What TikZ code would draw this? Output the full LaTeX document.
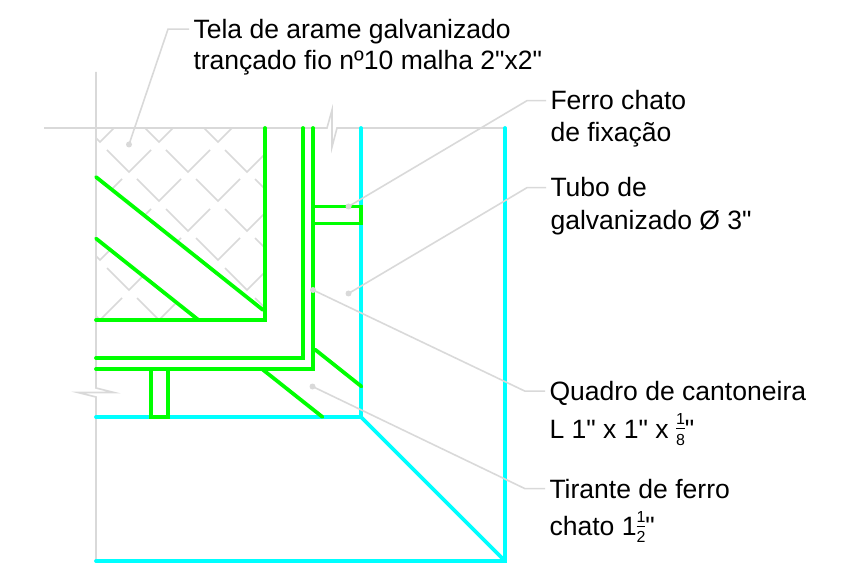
\documentclass[tikz,border=0pt]{standalone}
\usepackage{fontspec}
\setmainfont{Liberation Sans}[Ligatures=TeXOff]
\definecolor{leadergray}{RGB}{217,217,217}
\definecolor{steelgreen}{RGB}{0,255,0}
\definecolor{tubecyan}{RGB}{0,255,255}
\newcommand{\labelfont}{\fontsize{19.9}{24}\selectfont}
\newcommand{\smallfrac}[2]{\raisebox{1.8pt}{$\nulldelimiterspace=0pt\frac{\mbox{\fontsize{12}{12}\selectfont #1}}{\mbox{\fontsize{12}{12}\selectfont #2}}$}}
\tikzset{every picture/.style={line width=0.75pt},
  thin gray/.style={draw=leadergray,line width=1.2pt},
  steel/.style={draw=steelgreen,line width=2.8pt,line cap=round,line join=miter},
  tube/.style={draw=tubecyan,line width=2.8pt,line cap=round,line join=miter},
  leader/.style={draw=leadergray,line width=1.2pt},
  dot/.style={circle,fill=leadergray,inner sep=0pt,minimum size=4.5pt},
  callout/.style={anchor=base west,inner sep=3pt,text height=14pt,text depth=0pt,font=\labelfont}}

\begin{document}
\begin{tikzpicture}[x=0.75pt,y=0.75pt,yscale=-1,xscale=1]
\useasboundingbox (0,0) rectangle (865,563);

% Mesh hatch
\begin{scope}
\clip (96,128) -- (263,128) -- (263,309) -- (96,177) -- cycle (96,238) -- (198,320) -- (96,320) -- cycle;
\foreach \row in {142,201,260,320}
  \foreach \col in {100,159,218,277}
    \draw [thin gray] (\col-22,\row-22) -- (\col,\row) -- (\col+22,\row-22);
\foreach \row in {172,231,290}
  \foreach \col in {129,188,247}
    \draw [thin gray] (\col-22,\row-22) -- (\col,\row) -- (\col+22,\row-22);
\end{scope}

% Break lines
\draw [thin gray] (96,72) -- (96,388) -- (114,392.5) -- (78,392.5) -- (96,397) -- (96,562);
\draw [thin gray] (44,128) -- (327,128) -- (332,110) -- (332,147) -- (337,128) -- (505,128);

% Tube
\draw [tube] (361,128) -- (361,417) -- (96,417);
\draw [tube] (361,417) -- (505,561);
\draw [tube] (505,128) -- (505,561) -- (96,561);

% Frame
\draw [steel] (265,128) -- (265,320) -- (96,320);
\draw [steel] (96,177) -- (263,310);
\draw [steel] (96,238.5) -- (198.5,320);
\draw [steel] (303,128) -- (303,358) -- (96,358);
\draw [steel] (313,128) -- (313,369) -- (96,369);
\draw [steel] (313,206.5) -- (361,206.5) -- (361,223.5) -- (313,223.5);
\draw [steel] (151,369) -- (151,417) -- (168,417) -- (168,369);
\draw [steel] (315,349.5) -- (361.5,386.5);
\draw [steel] (262,369) -- (322.5,417);

% Text Node
\node [callout] (tela) at (189,38.5) {Tela de arame galvanizado};
\node [callout] (tela2) at (189,70) {trançado fio nº10 malha 2"x2"};
\node [callout] (ferro) at (546,110) {Ferro chato};
\node [callout] (ferro2) at (546,142) {de fixação};
\node [callout] (tubo) at (546,197) {Tubo de};
\node [callout] (tubo2) at (546,230) {galvanizado Ø 3"};
\node [callout] (quadro) at (545,400.5) {Quadro de cantoneira};
\node [callout] (quadro2) at (545,438) {L 1" x 1" x \smallfrac{1}{8}"};
\node [callout] (tirante) at (545,498) {Tirante de ferro};
\node [callout] (tirante2) at (545,535.5) {chato 1\smallfrac{1}{2}"};

% Leader dots
\node [dot] (dottela) at (129,144.5) {};
\node [dot] (dotferro) at (348.5,206.5) {};
\node [dot] (dottubo) at (348.5,293.5) {};
\node [dot] (dotquadro) at (313,290) {};
\node [dot] (dottirante) at (312.5,386.5) {};

% Connection
\draw [leader] (dottela.center) -- (168,0 |- tela.west) -- (tela.west);
\draw [leader] (dotferro.center) -- (527,0 |- ferro.west) -- (ferro.west);
\draw [leader] (dottubo.center) -- (527,0 |- tubo.west) -- (tubo.west);
\draw [leader] (dotquadro.center) -- (525,0 |- quadro.west) -- (quadro.west);
\draw [leader] (dottirante.center) -- (525,0 |- tirante.west) -- (tirante.west);

\end{tikzpicture}
\end{document}
